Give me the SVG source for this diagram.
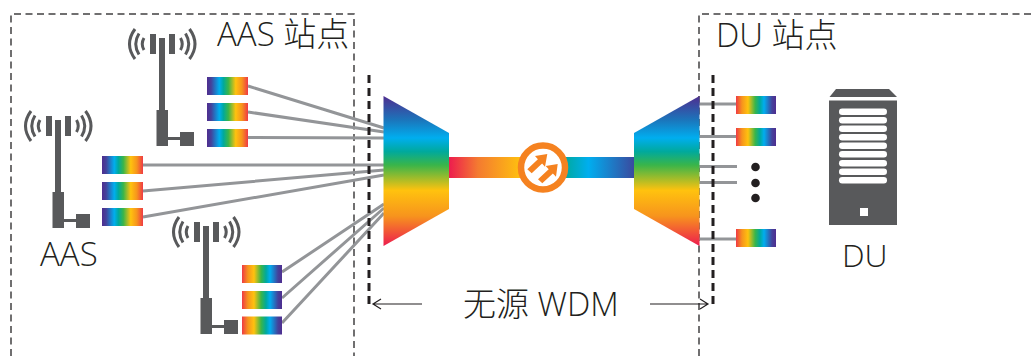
<svg xmlns="http://www.w3.org/2000/svg" xmlns:xlink="http://www.w3.org/1999/xlink" width="1035" height="356" viewBox="0 0 1035 356">
  <style>
    .site { fill: none; stroke: #414042; stroke-width: 1.5; stroke-dasharray: 7 4.500; }
    .edge { fill: none; stroke: #231f20; stroke-width: 3; stroke-dasharray: 8 5; }
    .fibre { fill: none; stroke: #939598; stroke-width: 3; }
    .gray { fill: #58595b; }
    .wave { fill: none; stroke: #58595b; stroke-width: 3; stroke-linecap: butt; }
    .label { font-family: "Open Sans", "Noto Sans CJK SC", sans-serif; font-weight: 300; fill: #231f20; }
    .span { fill: none; stroke: #231f20; stroke-width: 1.2; }
  </style>
  <defs>
    <linearGradient id="spectrumRight" x1="0" y1="0" x2="1" y2="0">
      <stop offset="0" stop-color="#4f2d8f"/>
      <stop offset="0.1" stop-color="#44429b"/>
      <stop offset="0.3" stop-color="#00aeef"/>
      <stop offset="0.4" stop-color="#00a99d"/>
      <stop offset="0.52" stop-color="#39b54a"/>
      <stop offset="0.7" stop-color="#ffc20e"/>
      <stop offset="0.85" stop-color="#f7941d"/>
      <stop offset="1" stop-color="#ef3a45"/>
    </linearGradient>
    <linearGradient id="spectrumLeft" x1="1" y1="0" x2="0" y2="0" xlink:href="#spectrumRight"/>
    <linearGradient id="demux" x1="0" y1="96" x2="0" y2="246" gradientUnits="userSpaceOnUse">
      <stop offset="0" stop-color="#4f2d8f"/>
      <stop offset="0.16" stop-color="#1b75bb"/>
      <stop offset="0.28" stop-color="#00aeef"/>
      <stop offset="0.37" stop-color="#00a99d"/>
      <stop offset="0.46" stop-color="#39b54a"/>
      <stop offset="0.63" stop-color="#ffc20e"/>
      <stop offset="0.8" stop-color="#f7941d"/>
      <stop offset="1" stop-color="#ed1c4e"/>
    </linearGradient>
    <linearGradient id="trunkWarm" x1="449" y1="0" x2="522" y2="0" gradientUnits="userSpaceOnUse">
      <stop offset="0" stop-color="#ed1c4e"/>
      <stop offset="0.4" stop-color="#f47b30"/>
      <stop offset="1" stop-color="#ffc20e"/>
    </linearGradient>
    <linearGradient id="trunkCool" x1="564" y1="0" x2="634" y2="0" gradientUnits="userSpaceOnUse">
      <stop offset="0" stop-color="#00a99d"/>
      <stop offset="0.35" stop-color="#00aeef"/>
      <stop offset="1" stop-color="#3a4a9f"/>
    </linearGradient>
    <g id="antenna">
      <rect class="gray" x="-3" y="-6" width="6" height="72"/>
      <rect class="gray" x="-5.500" y="66" width="11.500" height="36"/>
      <rect class="gray" x="5" y="93" width="14" height="3"/>
      <rect class="gray" x="18" y="88" width="14" height="14"/>
      <rect class="gray" x="-12" y="-10" width="6" height="20"/>
      <rect class="gray" x="7" y="-10" width="6" height="20"/>
      <path class="wave" d="M-18 -6Q-21.500 0 -18 6M-23 -10.500Q-29.500 0 -23 10.500M-27 -15Q-38 0 -27 15"/>
      <path class="wave" d="M18.500 -6Q22 0 18.500 6M23.500 -10.500Q30 0 23.500 10.500M27.500 -15Q38.500 0 27.500 15"/>
    </g>
    <rect id="channel" width="41" height="18" fill="url(#spectrumRight)"/>
    <rect id="channelFlip" width="40" height="18" fill="url(#spectrumLeft)"/>
  </defs>

  <g id="site-aas"><path class="site" d="M11 356V14H354V356"/></g>
  <g id="site-du"><path class="site" d="M699 356V14H1035"/></g>

  <g id="connectors">
    <path class="fibre" d="M248 86L384 128M248 112L384 132M248 137.500L384 138"/>
    <path class="fibre" d="M143 165L384 165M143 191L384 170M143 217L384 175"/>
    <path class="fibre" d="M282 272L384 204M282 298L384 208M282 323L384 213"/>
    <path class="fibre" d="M699 104H737M699 136.500H737M699 166.500H737M699 182.500H737M699 239H737"/>
  </g>

  <g id="edge-left"><path class="edge" d="M369 75V306"/></g>
  <g id="edge-right"><path class="edge" d="M713 75V306"/></g>

  <g id="antenna-top"><use href="#antenna" x="162" y="44"/></g>
  <g id="antenna-left"><use href="#antenna" x="58" y="126"/></g>
  <g id="antenna-bottom"><use href="#antenna" x="206" y="232"/></g>

  <g id="channels-top">
    <use href="#channel" x="207" y="77"/>
    <use href="#channel" x="207" y="103"/>
    <use href="#channel" x="207" y="129"/>
  </g>
  <g id="channels-left">
    <use href="#channel" x="102" y="156"/>
    <use href="#channel" x="102" y="182"/>
    <use href="#channel" x="102" y="208"/>
  </g>
  <g id="channels-bottom">
    <use href="#channelFlip" x="242" y="265"/>
    <use href="#channelFlip" x="242" y="291"/>
    <use href="#channelFlip" x="242" y="316.500"/>
  </g>
  <g id="channels-du">
    <use href="#channelFlip" x="736" y="96"/>
    <use href="#channelFlip" x="736" y="128"/>
    <use href="#channelFlip" x="736" y="229"/>
  </g>

  <g id="demux-left"><path d="M383.500 96L449 133V209L383.500 246Z" fill="url(#demux)"/></g>
  <g id="demux-right"><path d="M699.500 96L634 133V209L699.500 246Z" fill="url(#demux)"/></g>

  <g id="trunk">
    <rect x="449" y="157" width="74" height="21" fill="url(#trunkWarm)"/>
    <rect x="564" y="157" width="70" height="21" fill="url(#trunkCool)"/>
  </g>

  <g id="amplifier">
    <circle cx="543" cy="167.500" r="22" fill="#fff" stroke="#f58220" stroke-width="6.500"/>
    <path fill="#f58220" d="M527.300 169.300L537.900 159.200L535 156L547.300 154L545 166.700L542.100 163.400L531.700 173.300Z"/>
    <path fill="#f58220" d="M538 179.300L548.700 169.200L545.700 166L557.700 164L556 176.700L552.900 173.400L542.300 183.300Z"/>
  </g>

  <g id="dots" fill="#231f20">
    <circle cx="755.500" cy="167" r="4.300"/>
    <circle cx="755.500" cy="183" r="4.300"/>
    <circle cx="755.500" cy="198" r="4.300"/>
  </g>

  <g id="du-server">
    <path class="gray" d="M829.500 97L836 89H889L897 97Z"/>
    <rect class="gray" x="829" y="100.500" width="68" height="124.500"/>
    <g fill="#fff">
      <rect x="839" y="108.500" width="48" height="6.500" rx="3.200"/>
      <rect x="839" y="117" width="48" height="6.500" rx="3.200"/>
      <rect x="839" y="125.500" width="48" height="6.500" rx="3.200"/>
      <rect x="839" y="134" width="48" height="6.500" rx="3.200"/>
      <rect x="839" y="142.500" width="48" height="6.500" rx="3.200"/>
      <rect x="839" y="151" width="48" height="6.500" rx="3.200"/>
      <rect x="839" y="160" width="48" height="6.500" rx="3.200"/>
      <rect x="839" y="168.500" width="48" height="6.500" rx="3.200"/>
      <rect x="839" y="177" width="48" height="6.500" rx="3.200"/>
      <rect x="860" y="208" width="8" height="8"/>
    </g>
  </g>

  <g id="labels">
    <text class="label" x="217" y="46" font-size="33">AAS 站点</text>
    <text class="label" x="716" y="47" font-size="33">DU 站点</text>
    <text class="label" x="40" y="266" font-size="33">AAS</text>
    <text class="label" x="842" y="267" font-size="32">DU</text>
    <text class="label" x="463" y="316" font-size="33">无源 WDM</text>
  </g>

  <g id="span-arrows">
    <path class="span" d="M373 304H422M381 299L373 304L381 309"/>
    <path class="span" d="M650 304H708M700 299L708 304L700 309"/>
  </g>
</svg>
